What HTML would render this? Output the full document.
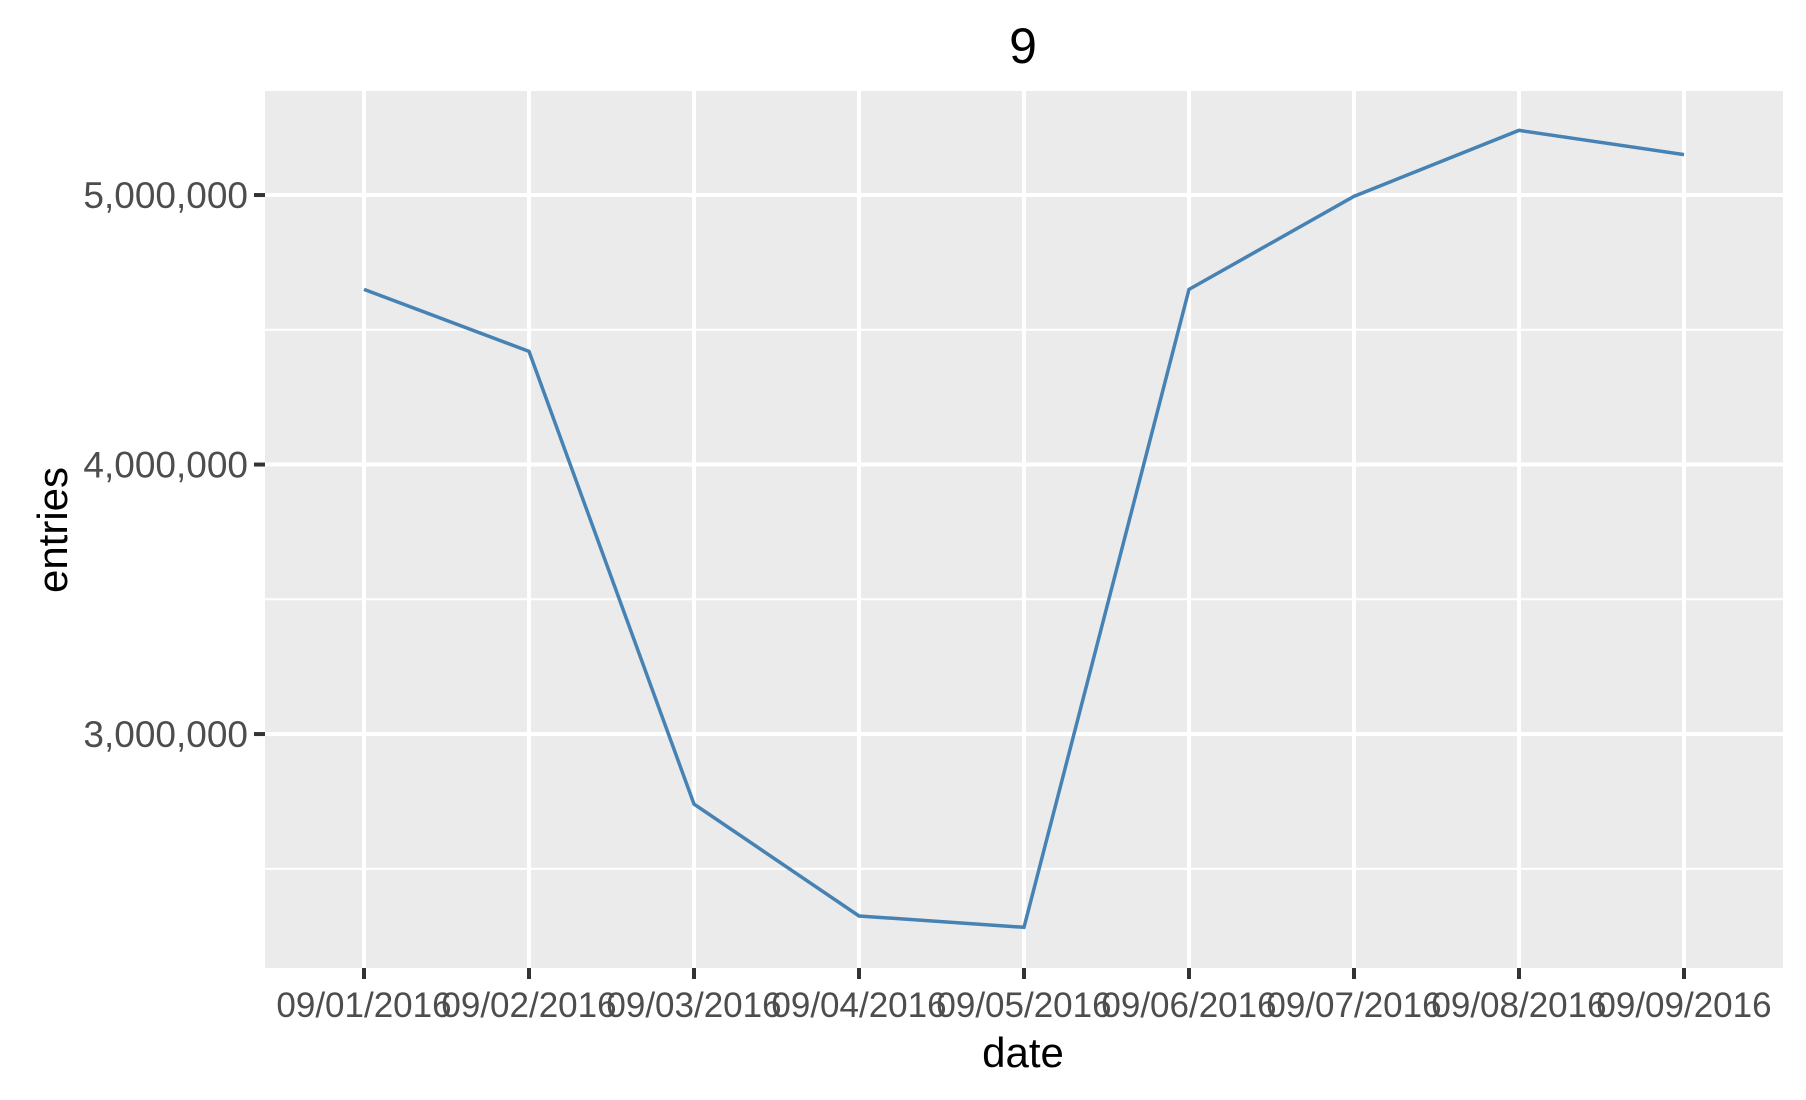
<!DOCTYPE html>
<html><head><meta charset="utf-8"><style>
body{margin:0;background:#fff;}
svg{display:block;font-family:"Liberation Sans",sans-serif;}
</style></head><body>
<svg id="chart" width="1806" height="1100" viewBox="0 0 1806 1100">
<rect x="265" y="91" width="1518" height="877" fill="#ebebeb"/>
<g id="grid"></g><g id="axes"></g><g id="series"></g>
<text x="1023" y="63" font-size="50" text-anchor="middle" fill="#000">9</text>
<text x="1023" y="1067" font-size="42" text-anchor="middle" fill="#000">date</text>
<text x="0" y="0" font-size="42" text-anchor="middle" fill="#000" transform="translate(67,530) rotate(-90)">entries</text>
</svg>
<script>
const categories=["09/01/2016","09/02/2016","09/03/2016","09/04/2016","09/05/2016","09/06/2016","09/07/2016","09/08/2016","09/09/2016"];
const entries=[4650000,4420000,2740000,2325000,2283000,4650000,4995000,5240000,5150000];
const yTicks=[3000000,4000000,5000000];
const yTickLabels=["3,000,000","4,000,000","5,000,000"];
const yMinor=[2500000,3500000,4500000];
const yMin=2132000,yMax=5386000;
const L=265,R=1783,T=91,B=968;
const ns="http://www.w3.org/2000/svg";
function x(i){return 364+i*(1684-364)/(categories.length-1);}
function y(v){return B-(v-yMin)/(yMax-yMin)*(B-T);}
function mk(tag,attrs,parent){const e=document.createElementNS(ns,tag);for(const k in attrs)e.setAttribute(k,attrs[k]);document.getElementById(parent).appendChild(e);return e;}
yMinor.forEach(v=>{const e=mk('line',{x1:L,x2:R,y1:y(v),y2:y(v),stroke:'#fff','stroke-width':2},'grid');

});
yTicks.forEach((v,i)=>{const e=mk('line',{x1:L,x2:R,y1:y(v),y2:y(v),stroke:'#fff','stroke-width':4},'grid');


const t=mk('line',{x1:L-11,x2:L,y1:y(v),y2:y(v),stroke:'#333','stroke-width':4},'axes');


const l=mk('text',{x:L-17,y:y(v)+13,'font-size':37,'text-anchor':'end',fill:'#4d4d4d'},'axes');l.textContent=yTickLabels[i];

});
categories.forEach((c,i)=>{const e=mk('line',{x1:x(i),x2:x(i),y1:T,y2:B,stroke:'#fff','stroke-width':4},'grid');


const t=mk('line',{x1:x(i),x2:x(i),y1:B,y2:B+11,stroke:'#333','stroke-width':4},'axes');


const l=mk('text',{x:x(i),y:1017,'font-size':35,'text-anchor':'middle',fill:'#4d4d4d'},'axes');l.textContent=c;

});
const p=mk('polyline',{points:entries.map((v,i)=>x(i)+','+y(v)).join(' '),fill:'none',stroke:'#4682b4','stroke-width':3.5},'series');


</script>
</body></html>
